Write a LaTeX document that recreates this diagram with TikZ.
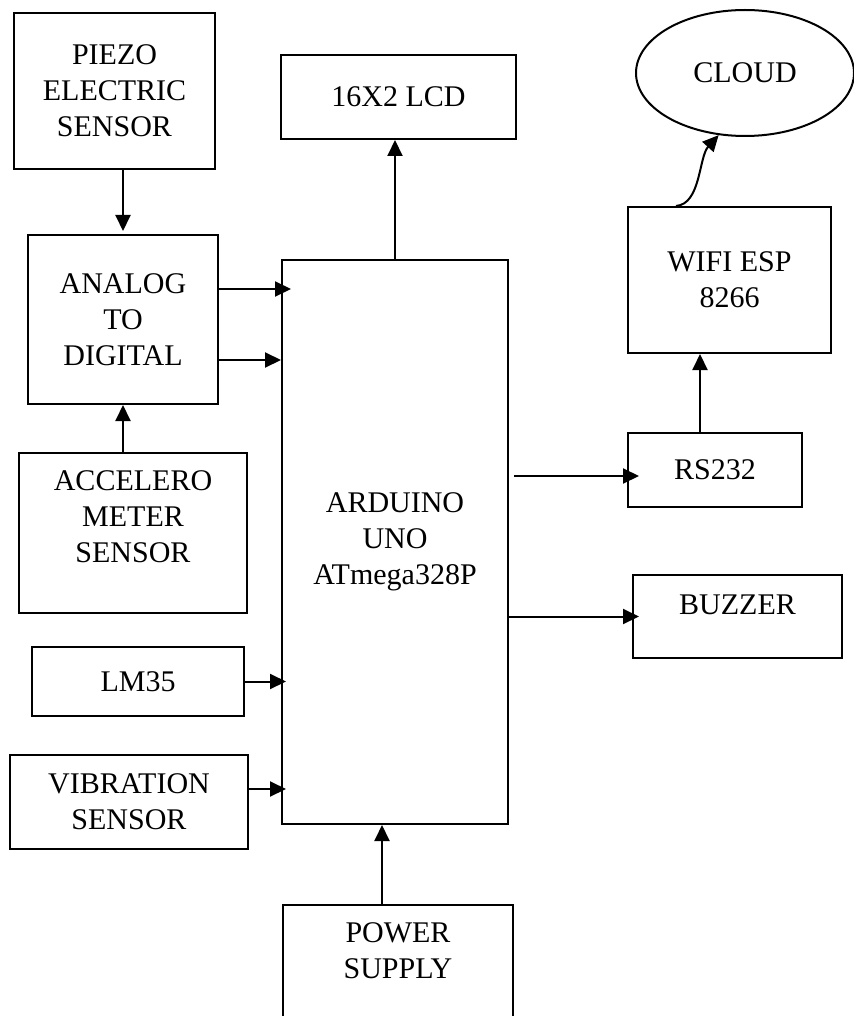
\documentclass[tikz,border=0pt]{standalone}
\usepackage{fontspec}
\setmainfont{Liberation Serif}
\usetikzlibrary{shapes.geometric, arrows.meta, positioning, calc}

\begin{document}
\begin{tikzpicture}[x=0.5pt, y=-0.5pt, line width=1pt,
        font=\fontsize{15}{18}\selectfont,
        block/.style={draw, rectangle, align=center, inner sep=0pt},
        txt/.style={align=center, inner sep=0pt},
        arr/.style={-{Triangle[length=8pt, width=7.5pt]}}]
    \useasboundingbox (0,0) rectangle (854,1016);

    % sensors on the left
    \node[block, minimum width=100.5pt, minimum height=78pt] (piezo) at (114.5,91) {PIEZO\\ELECTRIC\\SENSOR};
    \node[block, minimum width=95pt, minimum height=84.5pt] (adc) at (123,319.5) {ANALOG\\TO\\DIGITAL};
    \node[block, minimum width=114pt, minimum height=80pt] (accel) at (133,533) {};
    \node[txt] (accel-txt) at ([yshift=8pt]accel.center) {ACCELERO\\METER\\SENSOR};
    \node[block, minimum width=106pt, minimum height=34.5pt] (lm35) at (138,681.5) {LM35};
    \node[block, minimum width=119pt, minimum height=47pt] (vib) at (129,802) {VIBRATION\\SENSOR};

    % controller
    \node[block, minimum width=113pt, minimum height=282pt] (arduino) at (395,542) {ARDUINO\\UNO\\ATmega328P};
    \node[block, minimum width=117.5pt, minimum height=42pt] (lcd) at (398.5,97) {16X2 LCD};
    \node[block, anchor=north, minimum width=115pt, minimum height=70pt] (power) at (398,904) {};
    \node[txt] (power-txt) at ([yshift=-23.25pt]power.north) {POWER\\SUPPLY};

    % outputs on the right
    \node[draw, ellipse, inner sep=0pt, minimum width=109pt, minimum height=63pt] (cloud) at (745,73) {CLOUD};
    \node[block, minimum width=101.5pt, minimum height=73pt] (wifi) at (729.5,280) {WIFI ESP\\8266};
    \node[block, minimum width=87pt, minimum height=37pt] (rs232) at (715,470) {RS232};
    \node[block, minimum width=104.5pt, minimum height=41.5pt] (buzzer) at (737.5,616.5) {};
    \node[txt] (buzzer-txt) at ([yshift=5.75pt]buzzer.center) {BUZZER};

    % helper points for the shifted connectors
    \coordinate (adc-out1) at ([yshift=15.25pt]adc.east);
    \coordinate (adc-out2) at ([yshift=-20.25pt]adc.east);
    \coordinate (vib-out) at ([yshift=6.5pt]vib.east);
    \coordinate (power-out) at ([xshift=-8pt]power.north);
    \coordinate (rs232-in) at ([yshift=-3pt]rs232.west);
    \coordinate (rs232-out) at ([xshift=-7.5pt]rs232.north);
    \coordinate (wifi-out) at ([xshift=24.5pt]wifi.north west);

    \draw[arr, shorten >=1.5pt] (piezo.south -| adc.north) -- (adc.north);
    \draw[arr] (accel.north -| adc.south) -- (adc.south);
    \draw[arr, shorten >=-5pt] (adc-out1) -- (adc-out1 -| arduino.west);
    \draw[arr] (adc-out2) -- (adc-out2 -| arduino.west);
    \draw[arr, shorten >=-2.5pt] (lm35.east) -- (lm35.east -| arduino.west);
    \draw[arr, shorten >=-2.5pt] (vib-out) -- (vib-out -| arduino.west);
    \draw[arr] (power-out) -- (power-out |- arduino.south);
    \draw[arr] (arduino.north) -- (arduino.north |- lcd.south);
    \draw[arr, shorten <=2.5pt, shorten >=-6pt] (rs232-in -| arduino.east) -- (rs232-in);
    \draw[arr, shorten >=-3.5pt] (buzzer.west -| arduino.east) -- (buzzer.west);
    \draw[arr] (rs232-out) -- (rs232-out |- wifi.south);
    \draw[arr] (wifi-out) .. controls +(25,-2) and +(-20,22) .. (cloud.247);
\end{tikzpicture}
\end{document}
